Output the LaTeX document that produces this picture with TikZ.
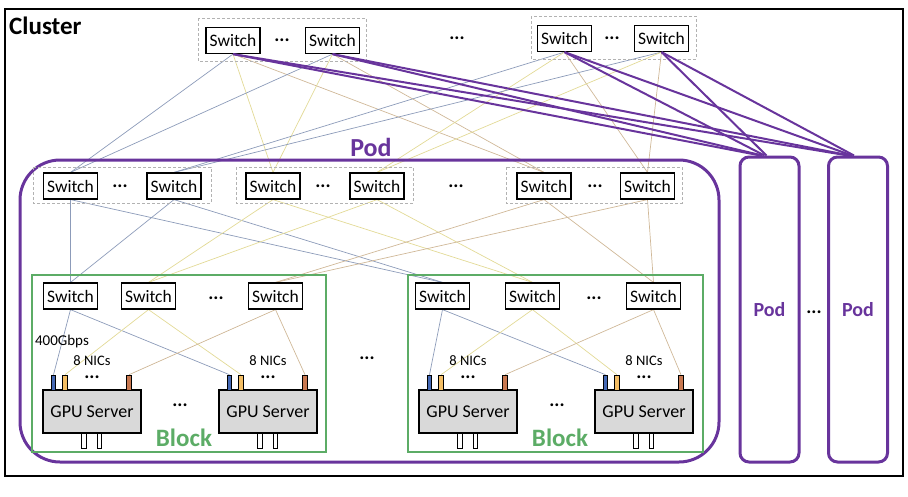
\documentclass[tikz,border=0pt]{standalone}
\usepackage{fontspec}
\setmainfont{Carlito}
\usetikzlibrary{backgrounds}
\definecolor{podpurple}{RGB}{104,52,156}
\definecolor{blockgreen}{RGB}{92,172,102}
\definecolor{srvgray}{RGB}{217,217,217}
\definecolor{nicb}{RGB}{68,104,180}
\definecolor{nicy}{RGB}{244,190,100}
\definecolor{nicr}{RGB}{200,120,80}
\definecolor{lblue}{RGB}{140,155,185}
\definecolor{lyellow}{RGB}{226,218,150}
\definecolor{ltan}{RGB}{208,184,152}
\begin{document}
\begin{tikzpicture}[x=1pt,y=-1pt,
  sw/.style={draw=black,line width=1.2pt,fill=white,minimum width=54pt,minimum height=26pt,inner sep=0pt,font=\fontsize{17.5}{19}\selectfont},
  grp/.style={draw=gray!60,line width=0.8pt,dash pattern=on 3pt off 2pt},
  dots/.style={font=\fontsize{19}{19}\bfseries\selectfont,inner sep=0pt},
  srv/.style={draw=black,line width=1.2pt,fill=srvgray,minimum width=98pt,minimum height=43pt,inner sep=0pt,font=\fontsize{18}{20}\selectfont},
  nic/.style={draw=black,line width=0.6pt,minimum width=4.5pt,minimum height=15pt,inner sep=0pt},
  port/.style={draw=black,line width=0.8pt,fill=white,minimum width=4.5pt,minimum height=15pt,inner sep=0pt},
  thin/.style={line width=0.7pt},
  plink/.style={draw=podpurple,line width=2pt},
  podbox/.style={draw=podpurple,line width=3pt,rounded corners=9pt,minimum width=59pt,minimum height=305pt,inner sep=0pt,text=podpurple,font=\fontsize{20}{22}\bfseries\selectfont},
  lbl/.style={inner sep=0pt}
]
\useasboundingbox (0,0) rectangle (908,496);
% cluster frame
\draw[line width=2pt] (5,9) rectangle (903,476);
\node[lbl,anchor=west,font=\fontsize{25}{27}\bfseries\selectfont] (cl) at (9,26) {Cluster};

% spine switch groups
\draw[grp] (198,18) rectangle (366,61);
\draw[grp] (531,16) rectangle (696,59);
\node[sw] (t11) at (233,40.5) {Switch};
\node[sw] (t12) at (332.5,40.5) {Switch};
\node[sw] (t21) at (564.5,38.5) {Switch};
\node[sw] (t22) at (661.5,38.5) {Switch};
\node[dots] (d1) at (282,40) {...};
\node[dots] (d2) at (457,38) {...};
\node[dots] (d3) at (612,38) {...};

% pod
\draw[podpurple,line width=3pt,rounded corners=40pt] (20,160) rectangle (719,462);
\node[lbl,text=podpurple,font=\fontsize{26}{28}\bfseries\selectfont] (podl) at (371,147) {Pod};
\draw[grp] (33,167) rectangle (211,203);
\draw[grp] (236,167) rectangle (413,203);
\draw[grp] (506,167) rectangle (682,203);
\node[sw] (a1) at (70.5,186) {Switch};
\node[sw] (a2) at (174,186) {Switch};
\node[sw] (b1) at (273,186) {Switch};
\node[sw] (b2) at (377,186) {Switch};
\node[sw] (c1) at (544,186) {Switch};
\node[sw] (c2) at (647.5,186) {Switch};
\node[dots] (d4) at (120,186) {...};
\node[dots] (d5) at (323,186) {...};
\node[dots] (d6) at (456,186) {...};
\node[dots] (d7) at (595,186) {...};

% blocks
\draw[blockgreen,line width=1.5pt] (32,275) rectangle (326,452);
\draw[blockgreen,line width=1.5pt] (408,275) rectangle (703,452);
\node[lbl,text=blockgreen,font=\fontsize{25}{27}\bfseries\selectfont] (bl1) at (184,438) {Block};
\node[lbl,text=blockgreen,font=\fontsize{25}{27}\bfseries\selectfont] (bl2) at (560,438) {Block};
\node[sw] (k11) at (70.5,296) {Switch};
\node[sw] (k12) at (148.5,296) {Switch};
\node[sw] (k13) at (275.5,296) {Switch};
\node[sw] (k21) at (442.5,296) {Switch};
\node[sw] (k22) at (532.5,296) {Switch};
\node[sw] (k23) at (653.5,296) {Switch};
\node[dots] (d8) at (216,298) {...};
\node[dots] (d9) at (594,298) {...};
\node[dots] (d10) at (367,358) {...};
\node[dots] (d11) at (180,405) {...};
\node[dots] (d12) at (557,405) {...};
\node[lbl,font=\fontsize{15}{17}\selectfont] (gb) at (62,341) {400Gbps};

\foreach \n/\cx in {s11/92,s12/268,s21/468,s22/644}{
  \node[srv] (\n) at (\cx,411.5) {GPU Server};
  \node[nic,fill=nicb] (b\n) at (\cx-38.5,382.5) {};
  \node[nic,fill=nicy] (y\n) at (\cx-27,382.5) {};
  \node[nic,fill=nicr] (r\n) at (\cx+37,382.5) {};
  \node[port] (p\n) at (\cx-8,440.5) {};
  \node[port] (q\n) at (\cx+7.5,440.5) {};
  \node[lbl,font=\fontsize{14.5}{16}\selectfont] (t\n) at (\cx,361) {8 NICs};
  \node[dots] (e\n) at (\cx,377) {...};
}

% right pods
\node[podbox] (p1) at (769.5,309.5) {Pod};
\node[podbox] (p2) at (858,309.5) {Pod};
\node[dots] (d13) at (814,312) {...};

\begin{scope}[on background layer]
% spine to pod switches
\foreach \s in {t11,t12}{
  \draw[thin,lblue] (\s.south) -- (a1.north);
  \draw[thin,lyellow] (\s.south) -- (b1.north);
  \draw[thin,ltan] (\s.south) -- (c1.north);
}
\foreach \s in {t21,t22}{
  \draw[thin,lblue] (\s.south) -- (a2.north);
  \draw[thin,lyellow] (\s.south) -- (b2.north);
  \draw[thin,ltan] (\s.south) -- (c2.north);
}
% pod switches to block switches
\foreach \s in {a1,a2}{
  \draw[thin,lblue] (\s.south) -- (k11.north);
  \draw[thin,lblue] (\s.south) -- (k21.north);
}
\foreach \s in {b1,b2}{
  \draw[thin,lyellow] (\s.south) -- (k12.north);
  \draw[thin,lyellow] (\s.south) -- (k22.north);
}
\foreach \s in {c1,c2}{
  \draw[thin,ltan] (\s.south) -- (k13.north);
  \draw[thin,ltan] (\s.south) -- (k23.north);
}
% block switches to NICs
\draw[thin,lblue] (k11.south) -- (bs11.north);
\draw[thin,lblue] (k11.south) -- (bs12.north);
\draw[thin,lyellow] (k12.south) -- (ys11.north);
\draw[thin,lyellow] (k12.south) -- (ys12.north);
\draw[thin,ltan] (k13.south) -- (rs11.north);
\draw[thin,ltan] (k13.south) -- (rs12.north);
\draw[thin,lblue] (k21.south) -- (bs21.north);
\draw[thin,lblue] (k21.south) -- (bs22.north);
\draw[thin,lyellow] (k22.south) -- (ys21.north);
\draw[thin,lyellow] (k22.south) -- (ys22.north);
\draw[thin,ltan] (k23.south) -- (rs21.north);
\draw[thin,ltan] (k23.south) -- (rs22.north);
\end{scope}

% spine to other pods
\draw[plink] (t11.south) -- ([xshift=-9pt]p1.north);
\draw[plink] (t12.south) -- ([xshift=-7pt]p1.north);
\draw[plink] (t21.south) -- ([xshift=-5pt]p1.north);
\draw[plink] (t22.south) -- ([xshift=-3pt]p1.north);
\draw[plink] (t11.south) -- ([xshift=-10pt]p2.north);
\draw[plink] (t12.south) -- ([xshift=-8pt]p2.north);
\draw[plink] (t21.south) -- ([xshift=-6pt]p2.north);
\draw[plink] (t22.south) -- ([xshift=-4pt]p2.north);
\end{tikzpicture}
\end{document}
